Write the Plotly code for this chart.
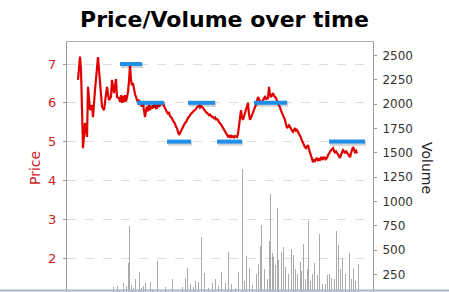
import plotly.graph_objects as go

# Price series (day index, price)
early_days = [11, 13, 14, 15, 16, 18, 20, 21, 23, 25, 26, 28, 30, 31, 32, 34, 35, 37, 39, 40,
              42, 44, 45, 47, 49, 50, 52, 53, 54, 55, 56, 57, 58, 59, 60]
early_vals = [6.59, 7.19, 6.85, 6.00, 4.83, 5.48, 5.12, 6.41, 5.81, 5.94, 5.63, 6.33, 6.92, 7.18, 6.85,
              6.25, 5.90, 5.81, 6.25, 6.41, 6.07, 6.15, 6.59, 6.25, 6.61, 6.15, 6.12, 6.02, 6.20, 6.00,
              6.18, 6.02, 6.20, 6.03, 6.15]
daily_days = list(range(61, 291))
daily_vals = [
    6.28, 6.55, 6.97, 6.59, 6.45, 6.51, 6.33, 6.22, 6.15, 6.05,
    6.00, 6.08, 5.95, 6.02, 5.90, 5.98, 5.75, 5.63, 5.80, 5.90,
    5.78, 5.95, 5.81, 5.92, 5.85, 5.94, 5.88, 6.00, 5.86, 5.87,
    5.98, 5.90, 5.94, 6.02, 5.95, 6.00, 5.92, 5.85, 5.80, 5.76,
    5.72, 5.74, 5.66, 5.63, 5.60, 5.54, 5.50, 5.46, 5.38, 5.35,
    5.25, 5.17, 5.22, 5.28, 5.30, 5.38, 5.42, 5.48, 5.50, 5.58,
    5.61, 5.64, 5.70, 5.72, 5.74, 5.78, 5.80, 5.81, 5.86, 5.88,
    5.90, 5.93, 5.88, 5.92, 5.90, 5.86, 5.84, 5.81, 5.76, 5.74,
    5.71, 5.68, 5.70, 5.66, 5.64, 5.63, 5.60, 5.62, 5.57, 5.58,
    5.56, 5.50, 5.48, 5.44, 5.40, 5.35, 5.30, 5.25, 5.20, 5.17,
    5.13, 5.15, 5.12, 5.15, 5.12, 5.14, 5.11, 5.14, 5.12, 5.12,
    5.20, 5.38, 5.60, 5.81, 5.62, 5.56, 5.65, 5.74, 5.80, 5.90,
    6.00, 5.70, 5.56, 5.62, 5.68, 5.74, 5.80, 5.90, 5.95, 6.05,
    6.15, 6.10, 6.05, 6.00, 6.00, 6.08, 6.12, 6.15, 6.08, 6.12,
    6.12, 6.41, 6.20, 6.15, 6.22, 6.25, 6.18, 6.15, 6.12, 6.05,
    6.00, 5.95, 5.88, 5.80, 5.74, 5.68, 5.60, 5.56, 5.45, 5.35,
    5.38, 5.42, 5.38, 5.30, 5.28, 5.25, 5.30, 5.35, 5.28, 5.30,
    5.25, 5.20, 5.17, 5.10, 5.02, 4.96, 4.90, 4.86, 4.83, 4.88,
    4.91, 4.80, 4.72, 4.65, 4.55, 4.47, 4.52, 4.50, 4.55, 4.58,
    4.50, 4.55, 4.53, 4.58, 4.55, 4.60, 4.56, 4.60, 4.55, 4.58,
    4.65, 4.70, 4.73, 4.78, 4.80, 4.83, 4.76, 4.72, 4.75, 4.70,
    4.65, 4.60, 4.58, 4.66, 4.72, 4.78, 4.75, 4.70, 4.76, 4.73,
    4.68, 4.64, 4.60, 4.70, 4.78, 4.86, 4.80, 4.73, 4.76, 4.70,
]
price_days = early_days + daily_days
price_vals = early_vals + daily_vals

# Volume series (day index, volume)
vol_days = [46, 50, 52, 56, 59, 61, 62, 64, 66, 68, 72, 74, 76, 78, 83, 85, 90, 93, 98, 105,
            115, 118, 120, 123, 126, 128, 131, 134, 137, 141, 145, 148, 151, 154, 158, 161, 164, 168, 171, 175,
            177, 179, 182, 185, 189, 191, 193, 194, 197, 200, 202, 203, 205, 206, 208, 210, 211, 214, 216, 218,
            221, 224, 226, 228, 230, 233, 234, 236, 238, 240, 241, 243, 245, 247, 250, 252, 255, 258, 260, 262,
            264, 267, 269, 271, 273, 275, 278, 282, 284, 286, 288, 291]
vol_vals = [120, 130, 90, 160, 130, 365, 745, 140, 110, 200, 275, 110, 130, 160, 170, 100, 390, 90, 120, 200,
            120, 210, 315, 150, 120, 180, 170, 635, 260, 110, 160, 200, 130, 275, 160, 480, 150, 110, 275, 1335,
            180, 440, 315, 140, 250, 355, 540, 755, 300, 200, 590, 1075, 470, 430, 350, 930, 400, 480, 530, 330,
            250, 510, 450, 300, 250, 375, 280, 560, 200, 300, 800, 180, 250, 365, 240, 665, 150, 150, 245, 250,
            210, 200, 695, 550, 300, 415, 250, 470, 200, 315, 180, 355]

# Support / resistance levels
level_start = [53, 70, 100, 121, 150, 187, 262]
level_end = [75, 97, 124, 148, 175, 220, 298]
level_price = [7.0, 6.0, 5.0, 6.0, 5.0, 6.0, 5.0]

W, H = 449, 292
ML, MR, MT, MB = 67, 76, 42, 0
pw, ph = W - ML - MR, H - MT - MB

fig = go.Figure()

fig.add_trace(go.Bar(x=vol_days, y=vol_vals, yaxis="y2", width=1.0,
                     marker=dict(color="rgba(125,125,125,0.65)", line=dict(width=0)),
                     showlegend=False))

fig.add_trace(go.Scatter(x=price_days, y=price_vals, mode="lines",
                         line=dict(color="#e00000", width=2.2), showlegend=False))

for s, e, p in zip(level_start, level_end, level_price):
    fig.add_trace(go.Scatter(x=[s + 1, e + 1], y=[p - 0.04, p - 0.04], mode="lines",
                             line=dict(color="rgba(0,0,0,0.18)", width=5), showlegend=False))
    fig.add_trace(go.Scatter(x=[s, e], y=[p, p], mode="lines",
                             line=dict(color="#1f8fe8", width=4), showlegend=False))

fig.update_layout(
    width=W, height=H,
    margin=dict(l=ML, r=MR, t=MT, b=MB),
    paper_bgcolor="white", plot_bgcolor="white",
    font=dict(family="DejaVu Sans", size=12),
    bargap=0,
    title=dict(text="<b>Price/Volume over time</b>", x=0.5, xanchor="center",
               y=1 - 19 / H, yanchor="middle", yref="container",
               font=dict(family="DejaVu Sans", size=22, color="black")),
    xaxis=dict(range=[0, 306], side="top", showline=True, linecolor="#b0b0b0", linewidth=1,
               showticklabels=False, ticks="", showgrid=False, zeroline=False),
    yaxis=dict(range=[1.124, 7.567], tickvals=[2, 3, 4, 5, 6, 7], showline=True,
               linecolor="#999999", linewidth=1, ticks="outside", ticklen=3, tickcolor="#999999",
               tickfont=dict(color="#cc2222", size=13), showgrid=True, gridcolor="#dddddd",
               griddash="dash", zeroline=False, ticklabelstandoff=4),
    yaxis2=dict(range=[68, 2640], overlaying="y", side="right", anchor="x",
                tickvals=[250, 500, 750, 1000, 1250, 1500, 1750, 2000, 2250, 2500],
                showline=True, linecolor="#999999", linewidth=1, ticks="outside", ticklen=3,
                tickcolor="#999999", tickfont=dict(color="#333333", size=12),
                showgrid=False, zeroline=False, ticklabelstandoff=3),
    annotations=[
        dict(text="Price", x=(35 - ML) / pw, y=(H - 168) / ph, xref="paper", yref="paper",
             xanchor="center", yanchor="middle", showarrow=False,
             textangle=-90, font=dict(color="#cc2222", size=14)),
        dict(text="Volume", x=(427 - ML) / pw, y=(H - 168) / ph, xref="paper", yref="paper",
             xanchor="center", yanchor="middle", showarrow=False,
             textangle=90, font=dict(color="#222222", size=14)),
    ],
)

fig.add_shape(type="line", xref="paper", yref="paper",
              x0=-ML / pw, x1=(W - ML) / pw, y0=1.5 / ph, y1=1.5 / ph,
              line=dict(color="#a8b8d0", width=2))

fig.write_html("out.html")
